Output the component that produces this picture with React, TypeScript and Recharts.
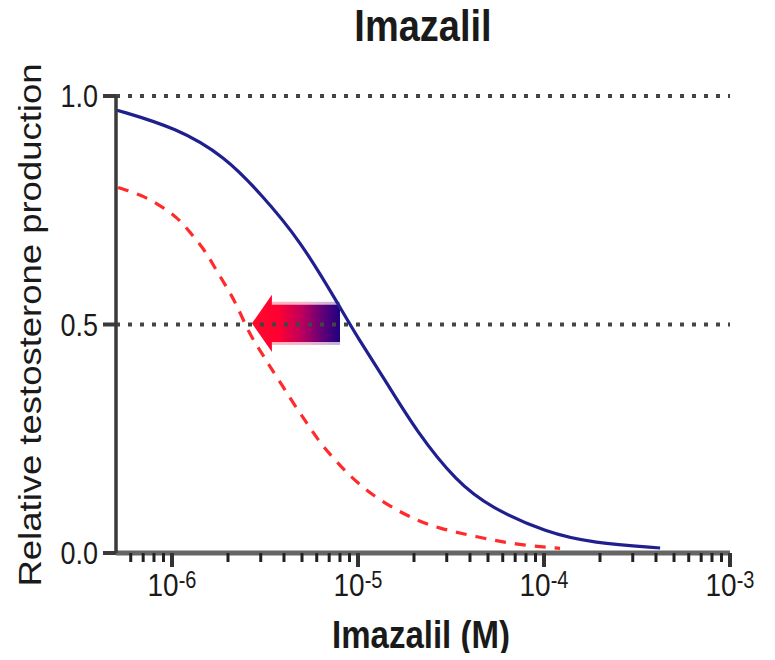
import { LineChart, Line, XAxis, YAxis, ReferenceLine, ReferenceArea } from "recharts";

// Imazalil concentration (M) vs relative testosterone production
const blueConc = [5.06e-7, 1.064e-6, 1.93e-6, 2.97e-6, 4.88e-6, 8.0e-6, 9.9e-6, 1.43e-5, 2.07e-5, 3.4e-5, 5.13e-5, 1.04e-4, 1.83e-4, 4.21e-4];
const blueValues = [0.969, 0.93, 0.867, 0.788, 0.685, 0.538, 0.473, 0.372, 0.265, 0.155, 0.1, 0.044, 0.022, 0.011];

const redConc = [5.13e-7, 6.9e-7, 8.61e-7, 1.064e-6, 1.25e-6, 1.5e-6, 1.7e-6, 1.98e-6, 2.23e-6, 2.62e-6, 3.05e-6, 3.37e-6, 3.9e-6, 4.48e-6, 5.32e-6, 6.1e-6, 7.35e-6, 8.73e-6, 1.06e-5, 1.31e-5, 1.68e-5, 2.07e-5, 2.66e-5, 4.37e-5, 7.16e-5, 1.22e-4];
const redValues = [0.8, 0.783, 0.761, 0.735, 0.702, 0.663, 0.624, 0.58, 0.543, 0.477, 0.437, 0.407, 0.368, 0.328, 0.284, 0.247, 0.208, 0.175, 0.144, 0.116, 0.09, 0.072, 0.055, 0.035, 0.018, 0.01];

const majorTicks = [1e-6, 1e-5, 1e-4, 1e-3];
const majorExponents = ["-6", "-5", "-4", "-3"];
const minorSteps = [2, 3, 4, 5, 6, 7, 8, 9];
const lowMinor = [6e-7, 7e-7, 8e-7, 9e-7];
const yTicks = [0, 0.5, 1];
const yTickLabels = ["0.0", "0.5", "1.0"];
const guideLevels = [1, 0.5];

// arrow showing the shift of the IC50
const arrowFrom = 8.0e-6;
const arrowTo = 2.69e-6;
const arrowLow = 0.44;
const arrowHigh = 0.565;

const blueData = blueConc.map((x, i) => ({ x, y: blueValues[i] }));
const redData = redConc.map((x, i) => ({ x, y: redValues[i] }));
const xTicks = [
  ...lowMinor,
  ...majorTicks.flatMap((m, i) => (i < majorTicks.length - 1 ? [m, ...minorSteps.map((s) => s * m)] : [m])),
];

const FONT = "'Liberation Sans', Arial, sans-serif";
const STRETCH = 1.15;

function StretchText({ x, y, size, weight = "normal", anchor = "middle", children }: any) {
  return (
    <text
      transform={`translate(${x},${y}) scale(1,${STRETCH})`}
      textAnchor={anchor}
      fontFamily={FONT}
      fontSize={size}
      fontWeight={weight}
      fill="#1a1a1a"
    >
      {children}
    </text>
  );
}

function XTick(props: any) {
  const { x, y, payload } = props;
  const v = payload.value;
  const lg = Math.log10(v);
  const idx = majorTicks.findIndex((m) => Math.abs(Math.log10(m) - lg) < 1e-6);
  const major = idx >= 0;
  return (
    <g>
      <line x1={x} x2={x} y1={y} y2={y + (major ? 14 : 9)} stroke={major ? "#333" : "#222"} strokeWidth={major ? 4 : 3} />
      {major && (
        <StretchText x={x} y={y + 43} size={28}>
          <tspan>10</tspan>
          <tspan fontSize={20} dy={-7}>{majorExponents[idx]}</tspan>
        </StretchText>
      )}
    </g>
  );
}

function YTick(props: any) {
  const { x, y, payload } = props;
  const i = yTicks.indexOf(payload.value);
  return (
    <StretchText x={x} y={y + 11} size={27} anchor="end">
      {yTickLabels[i]}
    </StretchText>
  );
}

function ArrowShape(props: any) {
  const { x, y, width: w, height: h } = props;
  const head = w * 0.227;
  const t = y + h * 0.175;
  const b = y + h * 0.825;
  const d = `M${x},${y + h / 2} L${x + head},${y} L${x + head},${t} L${x + w},${t} L${x + w},${b} L${x + head},${b} L${x + head},${y + h} Z`;
  return (
    <g>
      <defs>
        <linearGradient id="arrowGrad" x1="0" x2="1" y1="0" y2="0">
          <stop offset="0" stopColor="#ff0a2c" />
          <stop offset="0.3" stopColor="#ff0032" />
          <stop offset="0.55" stopColor="#c2005a" />
          <stop offset="0.8" stopColor="#620078" />
          <stop offset="1" stopColor="#1e007e" />
        </linearGradient>
      </defs>
      <rect x={x + head} y={t - 3} width={w - head} height={b - t + 6} fill="url(#arrowGrad)" fillOpacity={0.3} />
      <path d={d} fill="url(#arrowGrad)" />
    </g>
  );
}

export default function App() {
  return (
    <div style={{ position: "relative", width: 760, height: 645 }}>
      <LineChart width={760} height={645} margin={{ top: 88, right: 38, left: 0, bottom: 0 }}>
        <XAxis
          dataKey="x"
          type="number"
          scale="log"
          domain={[5e-7, 1e-3]}
          ticks={xTicks}
          interval={0}
          allowDataOverflow
          height={100}
          tickSize={0}
          tickMargin={0}
          tickLine={false}
          axisLine={{ stroke: "#666", strokeWidth: 5 }}
          tick={(p: any) => <XTick {...p} />}
        />
        <YAxis
          type="number"
          domain={[0, 1]}
          ticks={yTicks}
          width={108}
          tickSize={13}
          tickMargin={5}
          tickLine={{ stroke: "#3a3a3a", strokeWidth: 4 }}
          axisLine={{ stroke: "#3a3a3a", strokeWidth: 3.5 }}
          tick={(p: any) => <YTick {...p} />}
        />
        {guideLevels.map((g) => (
          <ReferenceLine key={g} y={g} stroke="#444" strokeWidth={4} strokeDasharray="4 8" />
        ))}
        <Line
          data={blueData}
          dataKey="y"
          type="basis"
          stroke="#1f1f8f"
          strokeWidth={3.2}
          dot={false}
          isAnimationActive={false}
        />
        <Line
          data={redData}
          dataKey="y"
          type="basis"
          stroke="#ff2b2b"
          strokeWidth={3.2}
          strokeDasharray="11 9"
          dot={false}
          isAnimationActive={false}
        />
        <ReferenceArea x1={arrowTo} x2={arrowFrom} y1={arrowLow} y2={arrowHigh} shape={(p: any) => <ArrowShape {...p} />} />
      </LineChart>
      <svg width={775} height={660} style={{ position: "absolute", left: -8, top: -8, pointerEvents: "none" }}>
        <StretchText x={423} y={41} size={38} weight="bold">Imazalil</StretchText>
        <StretchText x={421} y={648} size={33} weight="bold">Imazalil (M)</StretchText>
        <text
          transform="translate(41,325) rotate(-90)"
          textAnchor="middle"
          fontFamily={FONT}
          fontSize={31}
          fill="#1a1a1a"
          textLength={523}
          lengthAdjust="spacingAndGlyphs"
        >
          Relative testosterone production
        </text>
      </svg>
    </div>
  );
}
